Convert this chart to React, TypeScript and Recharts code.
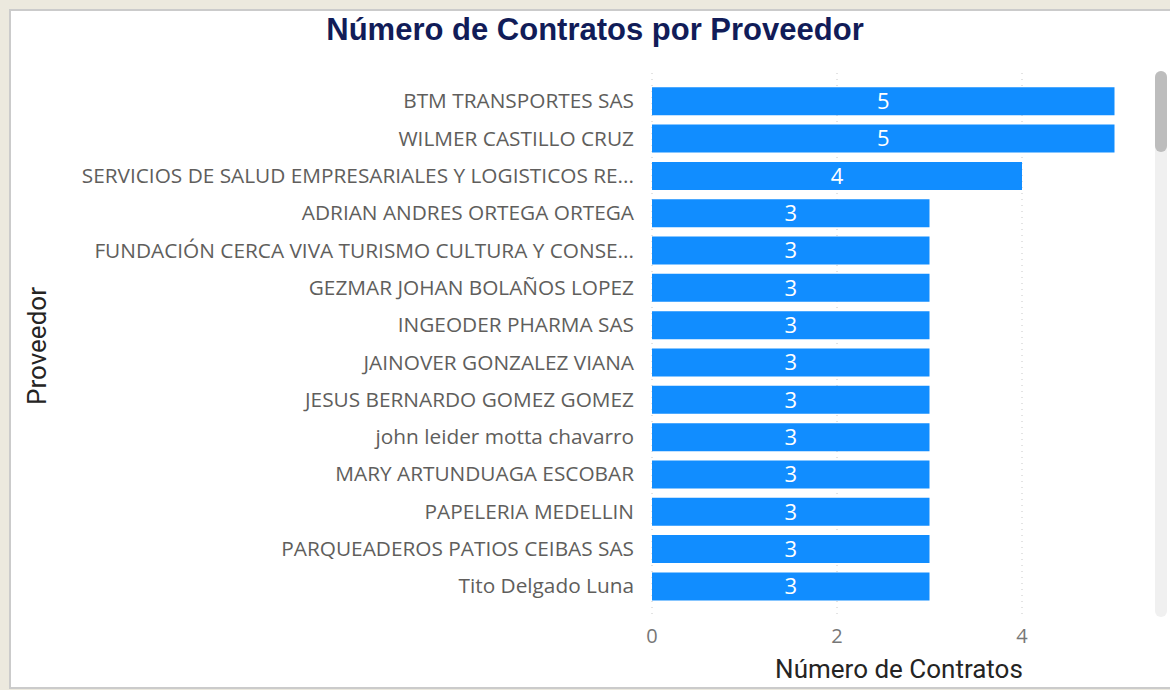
import React from "react";
import { BarChart, Bar, XAxis, YAxis, CartesianGrid, LabelList } from "recharts";

const proveedores = [
  "BTM TRANSPORTES SAS",
  "WILMER CASTILLO CRUZ",
  "SERVICIOS DE SALUD EMPRESARIALES Y LOGISTICOS RE...",
  "ADRIAN ANDRES ORTEGA ORTEGA",
  "FUNDACIÓN CERCA VIVA TURISMO CULTURA Y CONSE...",
  "GEZMAR JOHAN BOLAÑOS LOPEZ",
  "INGEODER PHARMA SAS",
  "JAINOVER GONZALEZ VIANA",
  "JESUS BERNARDO GOMEZ GOMEZ",
  "john leider motta chavarro",
  "MARY ARTUNDUAGA ESCOBAR",
  "PAPELERIA MEDELLIN",
  "PARQUEADEROS PATIOS CEIBAS SAS",
  "Tito Delgado Luna",
];
const contratos = [5, 5, 4, 3, 3, 3, 3, 3, 3, 3, 3, 3, 3, 3];
const xTicks = [0, 2, 4];
const xDomain: [number, number] = [0, 5];

const data = proveedores.map((p, i) => ({ proveedor: p, contratos: contratos[i] }));

const FONT = "'Open Sans', 'Noto Sans', sans-serif";

export default function App() {
  return (
    <div
      style={{
        position: "fixed",
        left: 0,
        top: 0,
        width: 1170,
        height: 690,
        background: "#ECE9DE",
        overflow: "hidden",
      }}
    >
      <div
        style={{
          position: "absolute",
          left: 9,
          top: 9,
          width: 1180,
          height: 680,
          boxSizing: "border-box",
          background: "#ffffff",
          border: "2px solid #CBCBCB",
        }}
      />
      <div
        style={{
          position: "absolute",
          left: 0,
          width: 1190,
          top: 10,
          textAlign: "center",
          fontFamily: "'Liberation Sans', Arial, sans-serif",
          fontWeight: 700,
          fontSize: 31,
          color: "#111C58",
          lineHeight: "40px",
        }}
      >
        Número de Contratos por Proveedor
      </div>
      <div style={{ position: "absolute", left: 0, top: 0 }}>
        <BarChart
          width={1170}
          height={690}
          data={data}
          layout="vertical"
          margin={{ top: 73, right: 55.5, bottom: 36, left: 0 }}
        >
          <CartesianGrid
            horizontal={false}
            vertical={true}
            stroke="#C8C8C8"
            strokeDasharray="1 5"
            verticalCoordinatesGenerator={({ xAxis, offset }: any) =>
              xTicks.map((t) =>
                xAxis && typeof xAxis.scale === "function"
                  ? xAxis.scale(t)
                  : offset.left + ((t - xDomain[0]) / (xDomain[1] - xDomain[0])) * offset.width
              )
            }
          />
          <XAxis
            type="number"
            dataKey="contratos"
            domain={xDomain}
            ticks={xTicks}
            axisLine={false}
            tickLine={false}
            height={40}
            tickMargin={9}
            tick={{ fill: "#777777", fontSize: 20, fontFamily: FONT }}
          />
          <YAxis
            type="category"
            dataKey="proveedor"
            width={652}
            axisLine={false}
            tickLine={false}
            tickMargin={12}
            interval={0}
            padding={{ top: 9.3, bottom: 9.3 }}
            tick={{ fill: "#605E5C", fontSize: 20.8, fontFamily: FONT }}
          />
          <Bar dataKey="contratos" fill="#118DFF" barSize={28} isAnimationActive={false}>
            <LabelList
              dataKey="contratos"
              position="center"
              fill="#ffffff"
              style={{ fontSize: 22, fontFamily: FONT }}
            />
          </Bar>
        </BarChart>
      </div>
      <div
        style={{
          position: "absolute",
          left: 750,
          width: 298,
          top: 652,
          textAlign: "center",
          fontFamily: "'Roboto', sans-serif",
          fontSize: 26,
          color: "#252423",
          lineHeight: "34px",
          whiteSpace: "nowrap",
        }}
      >
        Número de Contratos
      </div>
      <div
        style={{
          position: "absolute",
          left: 37,
          top: 346,
          transform: "translate(-50%, -50%) rotate(-90deg)",
          fontFamily: "'Roboto', sans-serif",
          fontSize: 26,
          color: "#252423",
          lineHeight: "34px",
          whiteSpace: "nowrap",
        }}
      >
        Proveedor
      </div>
      <div
        style={{
          position: "absolute",
          left: 1155,
          top: 71,
          width: 12,
          height: 546,
          borderRadius: 6,
          background: "#F0F0F0",
        }}
      />
      <div
        style={{
          position: "absolute",
          left: 1155,
          top: 71,
          width: 12,
          height: 81,
          borderRadius: 6,
          background: "#BDBDBD",
        }}
      />
    </div>
  );
}
